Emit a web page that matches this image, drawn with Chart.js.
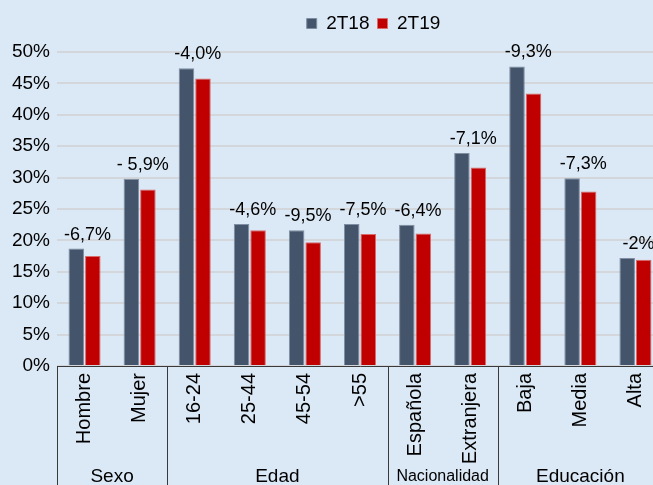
<!DOCTYPE html>
<html>
<head>
<meta charset="utf-8">
<script src="https://cdn.jsdelivr.net/npm/chart.js@4"></script>
<style>
  html, body { margin: 0; padding: 0; background: #dbe8f5; overflow: hidden; }
  #wrap { width: 747px; height: 485px; }
</style>
</head>
<body>
<div id="wrap"><canvas id="chart" width="747" height="485"></canvas></div>
<script>
// Datos
const categories = ['Hombre', 'Mujer', '16-24', '25-44', '45-54', '>55', 'Española', 'Extranjera', 'Baja', 'Media', 'Alta'];
const serie2T18 = [18.7, 29.8, 47.4, 22.6, 21.6, 22.6, 22.5, 33.9, 47.7, 29.9, 17.2];
const serie2T19 = [17.5, 28.1, 45.8, 21.6, 19.7, 21.0, 21.1, 31.6, 43.4, 27.8, 16.9];
const variaciones = ['-6,7%', '- 5,9%', '-4,0%', '-4,6%', '-9,5%', '-7,5%', '-6,4%', '-7,1%', '-9,3%', '-7,3%', '-2%'];
const grupos = ['Sexo', 'Edad', 'Nacionalidad', 'Educación'];
const tamGrupos = [2, 4, 2, 3];
const yMax = 50;
const yStep = 5;

const FONT = "'Liberation Sans', Arial, sans-serif";

// La leyenda va centrada sobre la zona visible y algo más arriba
const leyendaPlugin = {
    id: 'leyendaDesplazada',
    afterLayout(chart) {
        const lg = chart.legend;
        lg.left += 42;
        lg.right += 42;
        lg.top -= 9;
        lg.bottom -= 9;
    }
};

// Etiquetas de variación encima de cada pareja de barras
const variacionPlugin = {
    id: 'variaciones',
    afterDatasetsDraw(chart) {
        const { ctx, scales: { x, y } } = chart;
        ctx.save();
        ctx.font = '18px ' + FONT;
        ctx.fillStyle = '#000';
        ctx.textAlign = 'center';
        ctx.textBaseline = 'bottom';
        variaciones.forEach((txt, i) => {
            const top = Math.max(serie2T18[i], serie2T19[i]);
            ctx.fillText(txt, x.getPixelForValue(i) + 3, y.getPixelForValue(top) - 5);
        });
        ctx.restore();
    }
};

// Separadores y nombres de grupo bajo el eje
const gruposPlugin = {
    id: 'grupos',
    afterDraw(chart) {
        const { ctx, scales: { x }, chartArea } = chart;
        const half = (x.getPixelForValue(1) - x.getPixelForValue(0)) / 2;
        ctx.save();
        ctx.strokeStyle = '#3a3a3a';
        ctx.lineWidth = 1;
        ctx.fillStyle = '#000';
        ctx.textAlign = 'center';
        ctx.textBaseline = 'middle';
        let start = 0;
        grupos.forEach((nombre, g) => {
            const end = start + tamGrupos[g] - 1;
            const left = x.getPixelForValue(start) - half;
            const right = x.getPixelForValue(end) + half;
            ctx.beginPath();
            ctx.moveTo(Math.round(left) + 0.5, chartArea.bottom);
            ctx.lineTo(Math.round(left) + 0.5, chart.height);
            ctx.stroke();
            ctx.font = (nombre === 'Nacionalidad' ? '16px ' : '19px ') + FONT;
            ctx.fillText(nombre, (left + right) / 2, chartArea.bottom + 111);
            start = end + 1;
        });
        ctx.restore();
    }
};

new Chart(document.getElementById('chart'), {
    type: 'bar',
    data: {
        labels: categories,
        datasets: [{
            label: '2T18',
            data: serie2T18,
            backgroundColor: '#44546a',
            borderColor: '#7f8ea3',
            borderWidth: 1,
            barPercentage: 0.94,
            categoryPercentage: 0.6
        }, {
            label: '2T19',
            data: serie2T19,
            backgroundColor: '#c00000',
            borderColor: '#d96b6b',
            borderWidth: 1,
            barPercentage: 0.94,
            categoryPercentage: 0.6
        }]
    },
    options: {
        responsive: false,
        animation: false,
        layout: { padding: { top: 15, right: 84, left: 0, bottom: 0 } },
        plugins: {
            legend: {
                position: 'top',
                labels: {
                    boxWidth: 10,
                    boxHeight: 10,
                    padding: 8,
                    color: '#000',
                    font: { size: 19, family: FONT }
                }
            },
            tooltip: { enabled: false }
        },
        scales: {
            x: {
                grid: { display: false, drawTicks: false },
                border: { display: true, color: '#3a3a3a', width: 1 },
                ticks: {
                    color: '#000',
                    font: { size: 20, family: FONT },
                    minRotation: 90,
                    maxRotation: 90,
                    padding: 7,
                    autoSkip: false
                },
                afterFit(scale) { scale.height = 119; }
            },
            y: {
                min: 0,
                max: yMax,
                grid: { color: '#d3d7dc', lineWidth: 2, drawTicks: false },
                border: { display: false },
                ticks: {
                    stepSize: yStep,
                    color: '#000',
                    padding: 7,
                    font: { size: 19, family: FONT },
                    callback: v => v + '%'
                },
                afterFit(scale) { scale.width = 57; }
            }
        }
    },
    plugins: [leyendaPlugin, variacionPlugin, gruposPlugin]
});
</script>
</body>
</html>
